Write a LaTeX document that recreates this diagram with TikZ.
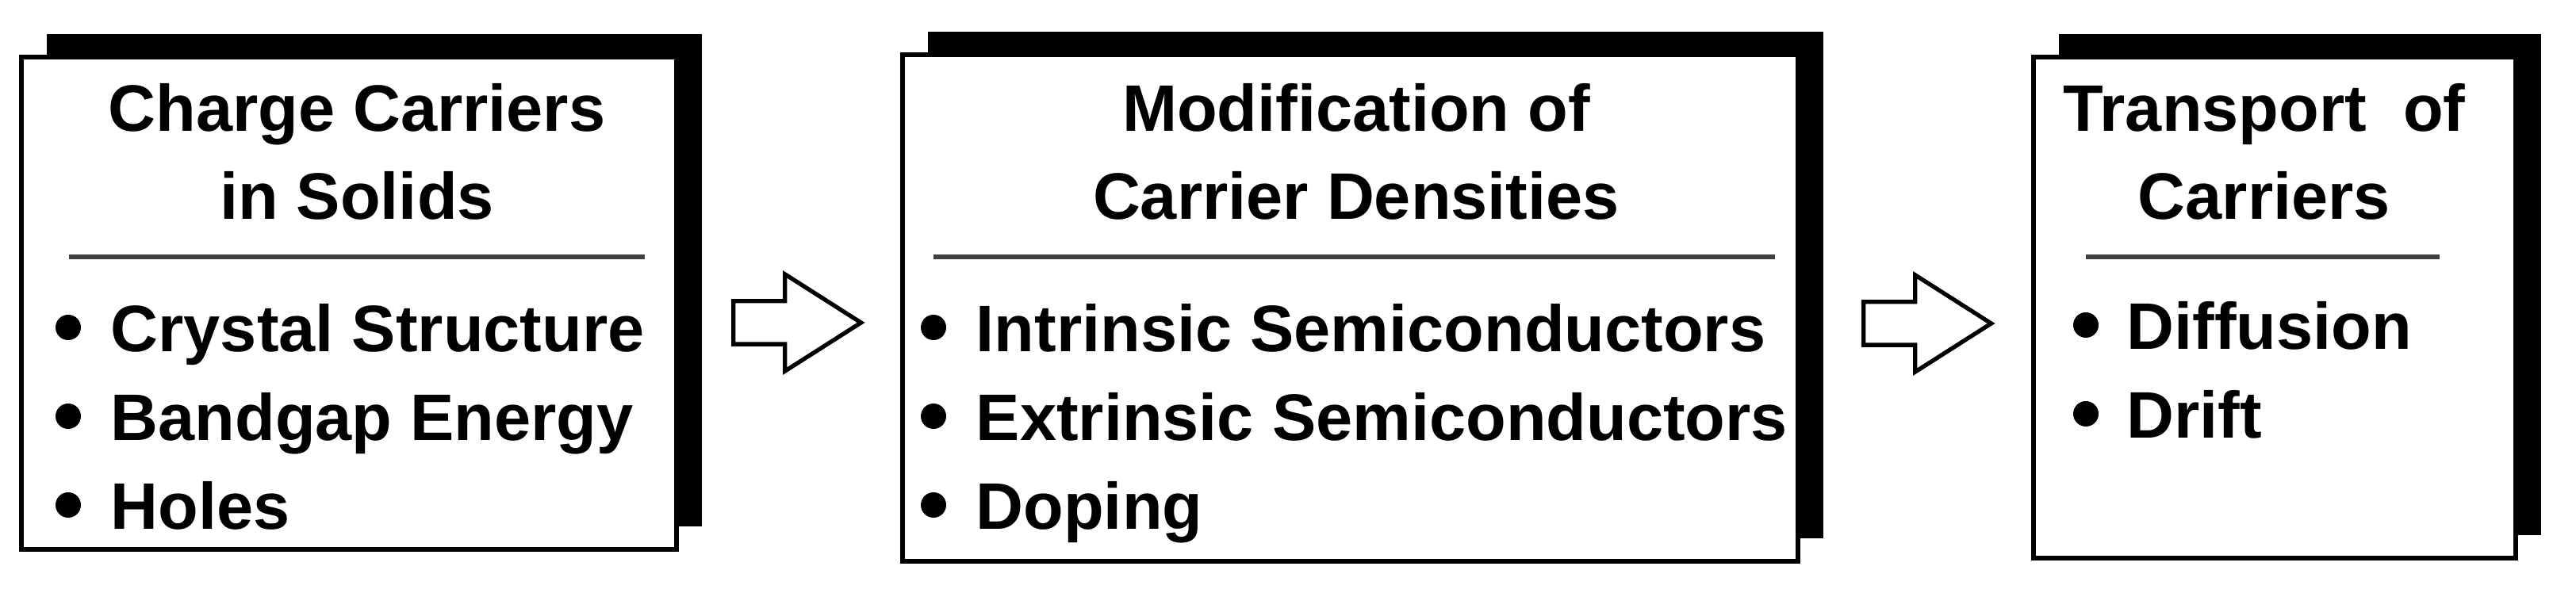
\documentclass[tikz,border=0pt]{standalone}
\usepackage{fontspec}
\setmainfont{Liberation Sans}
\usetikzlibrary{shapes.arrows, shadows}
\tikzset{>=stealth,
    card/.style={draw, line width=1.6pt, fill=white, inner sep=0,
        drop shadow={shadow xshift=0.32cm, shadow yshift=0.29cm, fill=black, opacity=1}},
    head/.style={font=\fontsize{23.6}{31.8}\selectfont\bfseries, align=center, anchor=base, inner sep=0},
    entry/.style={font=\fontsize{23.6}{31.8}\selectfont\bfseries, anchor=base west, inner sep=0},
    dot/.style={circle, fill=black, inner sep=0, minimum size=0.32cm},
    sep/.style={line width=1.6pt, black!75},
    fatarrow/.style={single arrow, draw, line width=1.5pt, fill=white, inner sep=0,
        text height=0.49cm, text depth=0pt, minimum height=1.61cm,
        single arrow head extend=0.34cm, single arrow tip angle=65, anchor=tail}}

\begin{document}
\begin{tikzpicture}
    \useasboundingbox (0,0) rectangle (32.48,7.48);
    % the three boxes
    \node[card, minimum width=8.26cm, minimum height=6.21cm] (box1) at (4.40,3.655) {};
    \node[card, minimum width=11.29cm, minimum height=6.39cm] (box2) at (17.025,3.595) {};
    \node[card, minimum width=6.08cm, minimum height=6.32cm] (box3) at (28.68,3.60) {};

    \node[head] (t1) at (4.50,4.71) {Charge Carriers\\in Solids};
    \node[head] (t2) at (17.10,4.71) {Modification of\\Carrier Densities};
    \node[head] (t3) at (28.55,4.71) {Transport~ of\\Carriers};

    \coordinate (r1a) at (0.87,4.24);  \coordinate (r1b) at (8.13,4.24);
    \coordinate (r2a) at (11.77,4.24); \coordinate (r2b) at (22.38,4.24);
    \coordinate (r3a) at (26.30,4.24); \coordinate (r3b) at (30.76,4.24);
    \draw[sep] (r1a) -- (r1b);
    \draw[sep] (r2a) -- (r2b);
    \draw[sep] (r3a) -- (r3b);

    \node[dot] (d11) at (0.86,3.35) {};  \node[entry] (e11) at (1.39,3.04) {Crystal Structure};
    \node[dot] (d12) at (0.86,2.23) {};  \node[entry] (e12) at (1.39,1.92) {Bandgap Energy};
    \node[dot] (d13) at (0.86,1.11) {};  \node[entry] (e13) at (1.39,0.80) {Holes};

    \node[dot] (d21) at (11.77,3.35) {}; \node[entry] (e21) at (12.30,3.04) {Intrinsic Semiconductors};
    \node[dot] (d22) at (11.77,2.23) {}; \node[entry] (e22) at (12.30,1.92) {Extrinsic Semiconductors};
    \node[dot] (d23) at (11.77,1.11) {}; \node[entry] (e23) at (12.30,0.80) {Doping};

    \node[dot] (d31) at (26.30,3.38) {}; \node[entry] (e31) at (26.81,3.07) {Diffusion};
    \node[dot] (d32) at (26.30,2.26) {}; \node[entry] (e32) at (26.81,1.95) {Drift};

    % block arrows between the boxes
    \node[fatarrow] (a12) at (9.22,3.41) {};
    \node[fatarrow] (a23) at (23.47,3.40) {};
\end{tikzpicture}
\end{document}
